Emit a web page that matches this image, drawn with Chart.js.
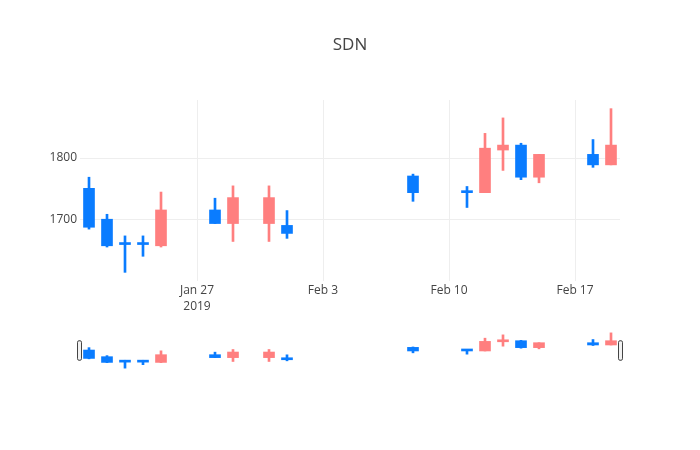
<!DOCTYPE html>
<html>
<head>
<meta charset="utf-8">
<script src="https://cdn.jsdelivr.net/npm/chart.js@4.4.1/dist/chart.umd.min.js"></script>
<style>
  html, body { margin: 0; padding: 0; background: #fff; }
  #wrap { position: relative; width: 700px; height: 450px; }
  #main { position: absolute; left: 0; top: 0; }
  #slider { position: absolute; left: 0; top: 320px; }
</style>
</head>
<body>
<div id="wrap">
  <canvas id="main" width="700" height="450"></canvas>
  <canvas id="slider" width="700" height="60"></canvas>
</div>
<script>
// SDN daily candles
const dates = ['2019-01-21', '2019-01-22', '2019-01-23', '2019-01-24', '2019-01-25',
  '2019-01-28', '2019-01-29', '2019-01-31', '2019-02-01', '2019-02-08',
  '2019-02-11', '2019-02-12', '2019-02-13', '2019-02-14', '2019-02-15',
  '2019-02-18', '2019-02-19'];
const open  = [1751, 1701, 1661, 1661, 1658, 1716, 1694, 1694, 1691, 1771, 1745, 1744, 1813, 1821, 1769, 1806, 1789];
const high  = [1769, 1709, 1674, 1674, 1745, 1735, 1755, 1755, 1715, 1774, 1754, 1840, 1865, 1824, 1806, 1830, 1880];
const low   = [1685, 1656, 1615, 1641, 1656, 1694, 1665, 1665, 1670, 1730, 1720, 1744, 1780, 1765, 1760, 1785, 1789];
const close = [1688, 1658, 1660, 1660, 1716, 1694, 1736, 1736, 1678, 1744, 1744, 1816, 1821, 1769, 1806, 1789, 1821];

const tickDates = ['2019-01-27', '2019-02-03', '2019-02-10', '2019-02-17'];
const tickLabels = [['Jan 27', '2019'], 'Feb 3', 'Feb 10', 'Feb 17'];
const yTicks = [1700, 1800];
const yMin = 1601, yMax = 1894;

const upColor = '#ff7f7f';
const downColor = '#0a7cff';

const day0 = Date.parse('2019-01-01');
const toDay = s => (Date.parse(s) - day0) / 864e5 + 1;

const xs = dates.map(toDay);
const xMin = Math.min(...xs) - 0.5;
const xMax = Math.max(...xs) + 0.5;
const colors = open.map((o, i) => close[i] > o ? upColor : downColor);

// body + wick as two floating bar sets
function candleSets() {
  return [
    {
      data: xs.map((x, i) => ({ x, y: [open[i], close[i]] })),
      backgroundColor: colors, barThickness: 11, minBarLength: 2, grouped: false
    },
    {
      data: xs.map((x, i) => ({ x, y: [low[i], high[i]] })),
      backgroundColor: colors, barThickness: 2, grouped: false
    }
  ];
}

Chart.defaults.font.family = '"Open Sans", verdana, arial, sans-serif';
Chart.defaults.color = '#444';

new Chart(document.getElementById('main'), {
  type: 'bar',
  data: { datasets: candleSets() },
  options: {
    responsive: false,
    animation: false,
    layout: { padding: { left: 0, right: 0, top: 0, bottom: 129 } },
    plugins: {
      legend: { display: false },
      tooltip: { enabled: false },
      title: {
        display: true, text: 'SDN', color: '#444',
        font: { size: 17, weight: 'normal' },
        padding: { top: 35, bottom: 44.6 }
      }
    },
    scales: {
      x: {
        type: 'linear', min: xMin, max: xMax, offset: false,
        grid: { color: '#eee', drawTicks: false, offset: false },
        border: { display: false },
        ticks: {
          padding: 2, maxRotation: 0, autoSkip: false, color: '#444',
          font: { size: 12, lineHeight: 1.33 },
          callback: v => {
            const k = tickDates.findIndex(d => toDay(d) === v);
            return k < 0 ? '' : tickLabels[k];
          }
        },
        afterBuildTicks: s => { s.ticks = tickDates.map(d => ({ value: toDay(d) })); },
        afterFit: s => { s.height = 40; }
      },
      y: {
        min: yMin, max: yMax,
        grid: { color: '#eee', drawTicks: false },
        border: { display: false },
        ticks: { padding: 3, color: '#444', font: { size: 12 }, callback: v => String(v) },
        afterBuildTicks: s => { s.ticks = yTicks.map(v => ({ value: v })); },
        afterFit: s => { s.width = 80; }
      },
      // empty right margin so the title centres on the page
      yRight: {
        position: 'right', min: yMin, max: yMax,
        grid: { display: false }, border: { display: false }, ticks: { display: false },
        afterFit: s => { s.width = 80; }
      }
    }
  }
});

// range slider grabbers
const grabbers = {
  id: 'grabbers',
  afterDraw(chart) {
    const { ctx, chartArea: a } = chart;
    const h = (a.bottom - a.top) / 2;
    const top = (a.top + a.bottom) / 2 - h / 2;
    ctx.save();
    ctx.fillStyle = '#f2f2f2';
    ctx.strokeStyle = '#444';
    ctx.lineWidth = 1;
    [a.left - 2.5, a.right - 1.5].forEach(x => {
      ctx.beginPath();
      ctx.roundRect(x, top, 4, h, 1.5);
      ctx.fill();
      ctx.stroke();
    });
    ctx.restore();
  }
};

new Chart(document.getElementById('slider'), {
  type: 'bar',
  data: { datasets: candleSets() },
  options: {
    responsive: false,
    animation: false,
    layout: { padding: { left: 80, right: 80, top: 11, bottom: 10 } },
    plugins: { legend: { display: false }, tooltip: { enabled: false } },
    scales: {
      x: { type: 'linear', min: xMin, max: xMax, offset: false, display: false },
      y: { min: yMin, max: yMax, display: false }
    }
  },
  plugins: [grabbers]
});
</script>
</body>
</html>
